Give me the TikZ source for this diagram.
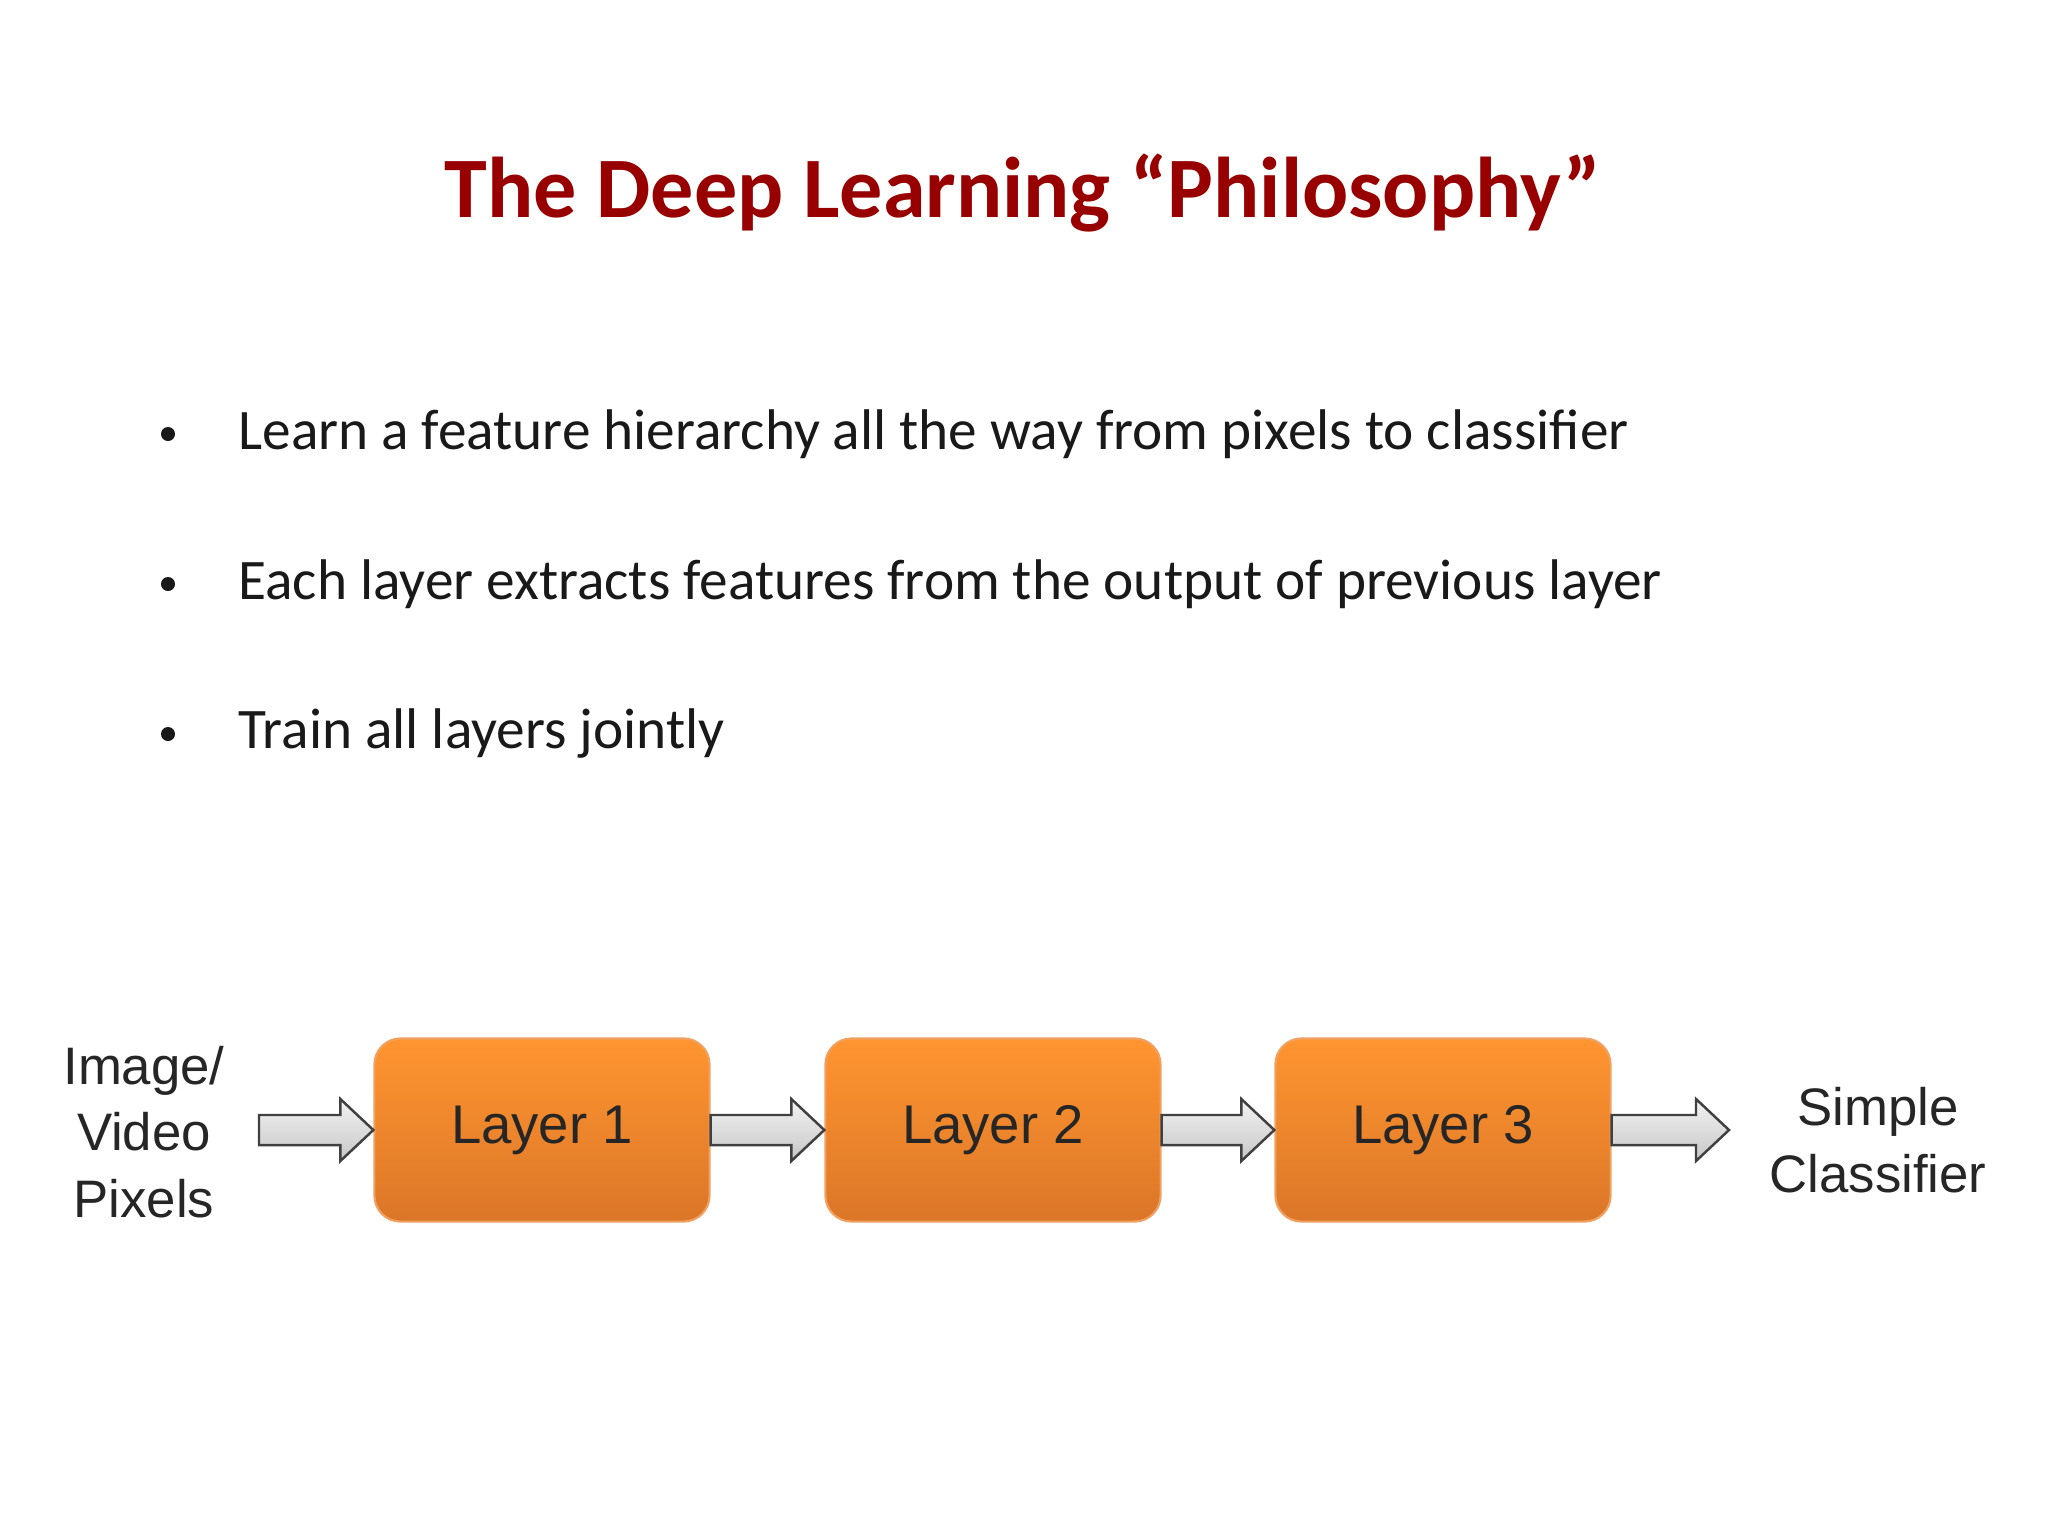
\documentclass[tikz,border=0pt]{standalone}
\usepackage{fontspec}
\setmainfont{Carlito}
\newfontfamily\arialf{Liberation Sans}
\usetikzlibrary{calc}
\definecolor{titlered}{HTML}{980000}
\definecolor{orTop}{HTML}{FF9530}
\definecolor{orBot}{HTML}{DB7628}
\definecolor{orEdge}{HTML}{F0A060}
\tikzset{
 layerbox/.style={rounded corners=0.26cm, minimum width=3.35cm, minimum height=1.83cm, top color=orTop, bottom color=orBot, draw=orEdge, line width=0.6pt, font=\arialf\fontsize{15.5}{18}\selectfont, text=black!85},
 sidelabel/.style={align=center, font=\arialf\fontsize{15}{19}\selectfont, text=black!85},
 bullettext/.style={anchor=west, font=\fontsize{16.3}{20}\selectfont, text=black!90},
 garrow/.style={draw=black!75, line width=0.7pt, top color=white!95!black, bottom color=black!22}
}
\newcommand{\blockarrow}[2]{%
 \draw[garrow] let \p1=(#1), \p2=(#2) in
  (\x1,\y1+0.15cm) -- (\x2-0.33cm,\y1+0.15cm) -- (\x2-0.33cm,\y1+0.31cm) -- (\x2,\y1) -- (\x2-0.33cm,\y1-0.31cm) -- (\x2-0.33cm,\y1-0.15cm) -- (\x1,\y1-0.15cm) -- cycle;}
\begin{document}
\begin{tikzpicture}[x=0.01cm,y=-0.01cm]
\useasboundingbox (0,0) rectangle (2048,1536);
\fill[white] (0,0) rectangle (2048,1536);
\node[text=titlered, font=\bfseries\fontsize{24.5}{30}\selectfont] (title) at (1023,193) {The Deep Learning “Philosophy”};
\node[bullettext] (b1) at (226,434) {Learn a feature hierarchy all the way from pixels to classifier};
\node[bullettext] (b2) at (226,584) {Each layer extracts features from the output of previous layer};
\node[bullettext] (b3) at (226,734) {Train all layers jointly};
\foreach \y in {434,584,734} \fill[black!90] (168,\y) circle (0.07cm);
\node[layerbox] (l1) at (542,1130) {Layer 1};
\node[layerbox] (l2) at (993,1130) {Layer 2};
\node[layerbox] (l3) at (1443,1130) {Layer 3};
\node[sidelabel] (in) at (144,1132) {Image/\\Video\\Pixels};
\node[sidelabel] (out) at (1878,1140) {Simple\\Classifier};
\coordinate (s0) at (259,1130);
\coordinate (e0) at (1729,1130);
\blockarrow{s0}{l1.west}
\blockarrow{l1.east}{l2.west}
\blockarrow{l2.east}{l3.west}
\blockarrow{l3.east}{e0}
\end{tikzpicture}
\end{document}
